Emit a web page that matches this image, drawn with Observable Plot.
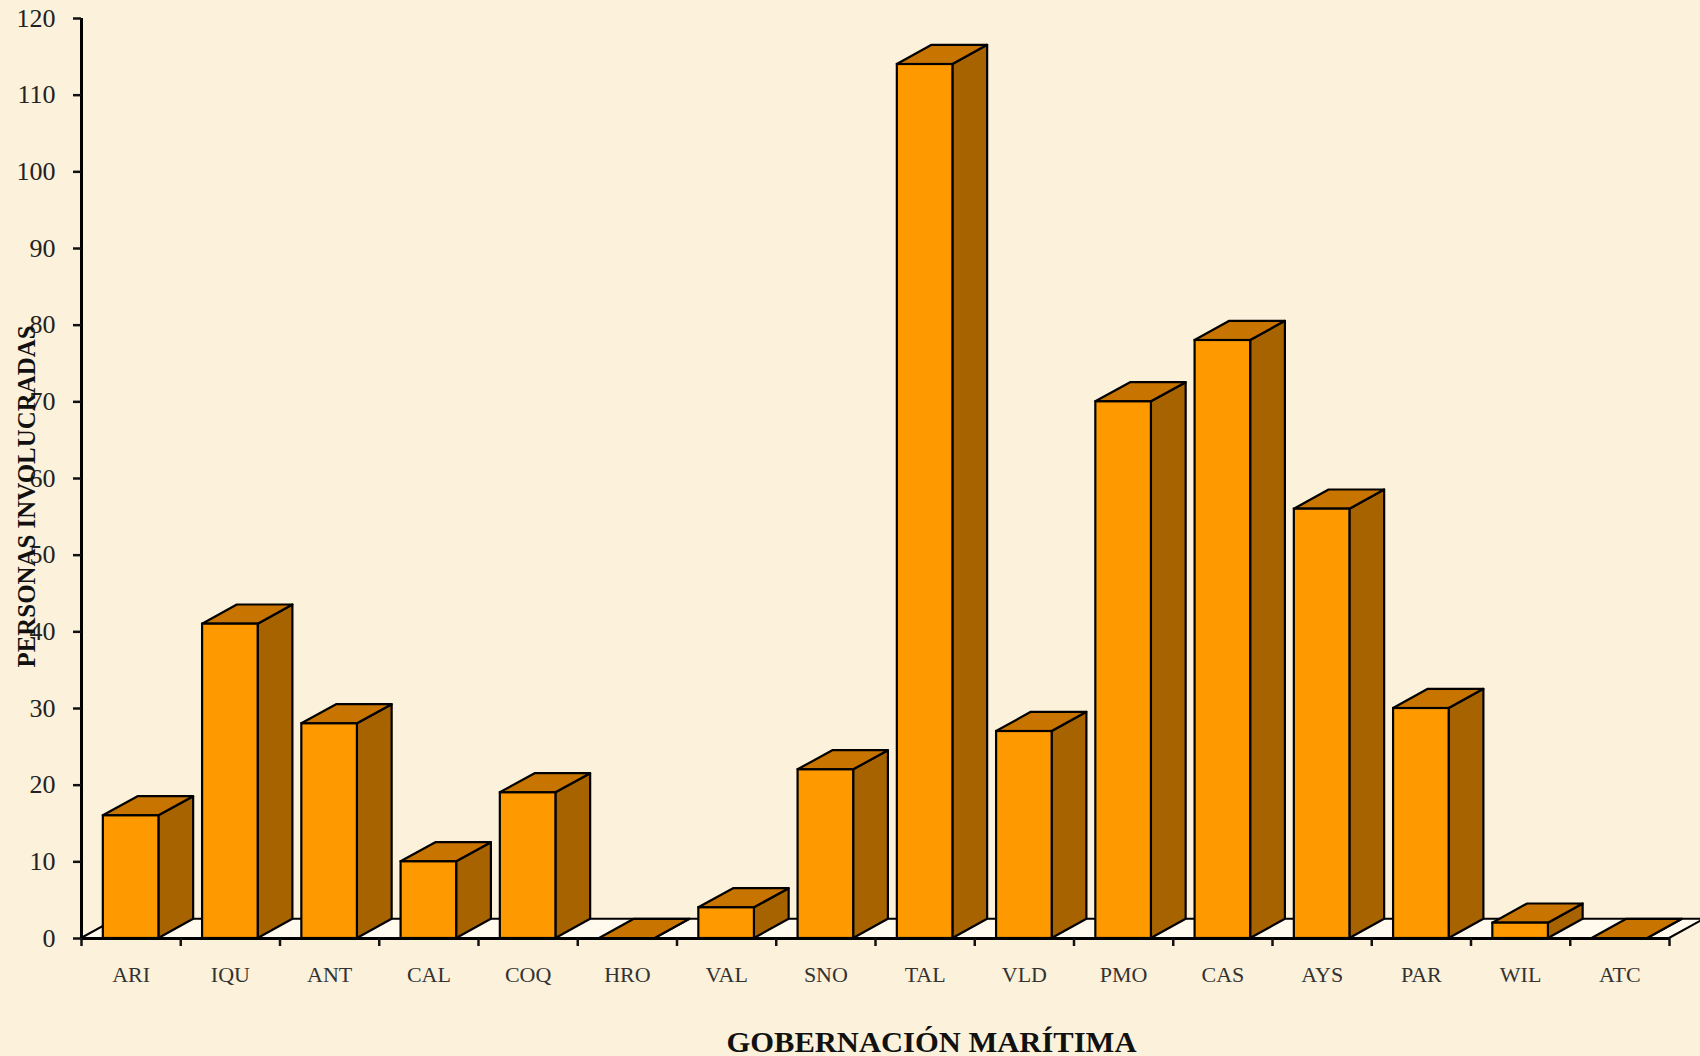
<!DOCTYPE html>
<html>
<head>
<meta charset="utf-8">
<script src="https://cdn.jsdelivr.net/npm/d3@7"></script>
<script src="https://cdn.jsdelivr.net/npm/@observablehq/plot@0.6"></script>
<style>
  html, body { margin: 0; padding: 0; background: #FCF1DA; }
  #chart svg { display: block; }
</style>
</head>
<body>
<div id="chart"></div>
<script>
const categories = ["ARI","IQU","ANT","CAL","COQ","HRO","VAL","SNO","TAL","VLD","PMO","CAS","AYS","PAR","WIL","ATC"];
const values = [16, 41, 28, 10, 19, 0, 4, 22, 114, 27, 70, 78, 56, 30, 2, 0];
const yTicks = [0, 10, 20, 30, 40, 50, 60, 70, 80, 90, 100, 110, 120];
const yTitle = "PERSONAS INVOLUCRADAS";
const xTitle = "GOBERNACIÓN MARÍTIMA";

// 3D bar geometry (in scale units of the index-based x scale and value y scale)
const L = 0.22, R = 0.78, DX = 0.35, DY = 2.5;
const n = categories.length;

const bars = categories.map((c, i) => ({c, i, v: values[i]}));
const sides = bars.flatMap(b => [
  {i: b.i, x: b.i + R, y1: 0, y2: b.v},
  {i: b.i, x: b.i + R + DX, y1: DY, y2: b.v + DY}
]);
const tops = bars.flatMap(b => [
  {i: b.i, x: b.i + L, y1: b.v, y2: b.v},
  {i: b.i, x: b.i + L + DX, y1: b.v, y2: b.v + DY},
  {i: b.i, x: b.i + R, y1: b.v, y2: b.v + DY},
  {i: b.i, x: b.i + R + DX, y1: b.v + DY, y2: b.v + DY}
]);
const floor = [
  {x: 0, y1: 0, y2: 0},
  {x: DX, y1: 0, y2: DY},
  {x: n, y1: 0, y2: DY},
  {x: n + DX, y1: DY, y2: DY}
];

const plot = Plot.plot({
  width: 1700,
  height: 1056,
  marginLeft: 81,
  marginRight: 31,
  marginTop: 18,
  marginBottom: 118,
  style: {background: "#FCF1DA", fontFamily: "'Liberation Serif', serif", color: "#111"},
  x: {type: "linear", domain: [0, n]},
  y: {domain: [0, 120]},
  marks: [
    Plot.areaY(floor, {x: "x", y1: "y1", y2: "y2", fill: "#FFF9EE", stroke: "black", strokeWidth: 2}),
    Plot.areaY(sides, {x: "x", y1: "y1", y2: "y2", z: "i", fill: "#A66300", stroke: "black", strokeWidth: 2.2, strokeLinejoin: "round"}),
    Plot.areaY(tops, {x: "x", y1: "y1", y2: "y2", z: "i", fill: "#C87400", stroke: "black", strokeWidth: 2.2, strokeLinejoin: "round"}),
    Plot.rectY(bars, {x1: b => b.i + L, x2: b => b.i + R, y1: 0, y2: "v", fill: "#FF9900", stroke: "black", strokeWidth: 2.2}),
    Plot.ruleX([0], {y1: 0, y2: 120, stroke: "black", strokeWidth: 3}),
    Plot.ruleY([0], {x1: 0, x2: n, stroke: "black", strokeWidth: 3}),
    Plot.axisY({ticks: yTicks, tickSize: 8, tickPadding: 18, strokeWidth: 2.5, fontSize: 26, fill: "#222", label: null}),
    Plot.axisX({ticks: d3.range(n + 1), tickSize: 8, tickFormat: () => "", strokeWidth: 2.5, label: null}),
    Plot.text(bars, {x: b => b.i + 0.5, y: 0, text: "c", dy: 36, fontSize: 22, fill: "#333"}),
    Plot.text([yTitle], {frameAnchor: "left", rotate: -90, textAnchor: "start", dx: -55, dy: 189, fontSize: 26, fontWeight: "bold", fill: "#111"}),
    Plot.text([xTitle], {frameAnchor: "bottom", textAnchor: "start", dx: -149, dy: 113, fontSize: 30, fontWeight: "bold", fill: "#111"})
  ]
});

d3.select(plot).selectAll("text").each(function() {
  const t = this.textContent;
  if (t === yTitle) d3.select(this).attr("textLength", 342).attr("lengthAdjust", "spacingAndGlyphs");
  if (t === xTitle) d3.select(this).attr("textLength", 410).attr("lengthAdjust", "spacingAndGlyphs");
});

document.getElementById("chart").appendChild(plot);
</script>
</body>
</html>
